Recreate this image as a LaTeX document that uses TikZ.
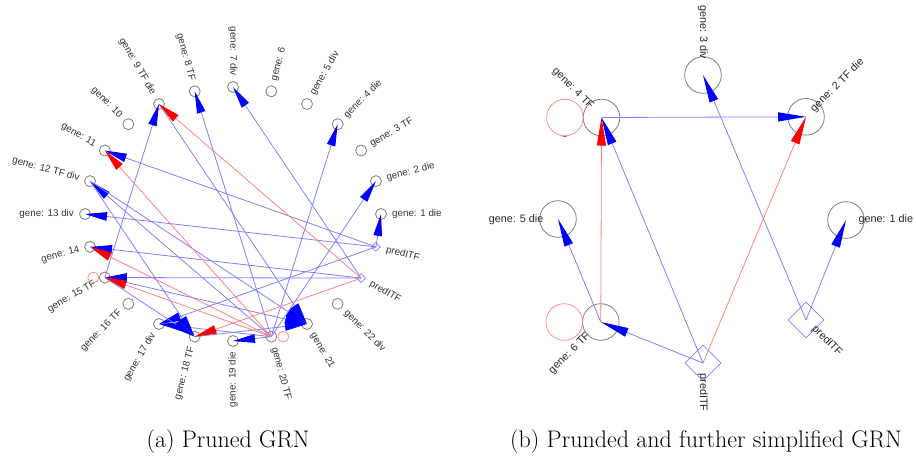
\documentclass[tikz,border=0pt]{standalone}
\usepackage{fontspec}
\newfontfamily\graphfont{Liberation Sans}
\usetikzlibrary{arrows.meta,shapes.geometric}
\definecolor{edgeblue}{RGB}{128,128,255}
\definecolor{edgered}{RGB}{255,128,128}
\definecolor{ringgray}{RGB}{125,125,125}

\begin{document}
\begin{tikzpicture}[x=1pt,y=-1pt,
  anode/.style={circle,draw=ringgray,line width=0.8pt,minimum size=11pt,inner sep=0pt},
  aloop/.style={circle,draw=edgered,line width=0.7pt,minimum size=11pt,inner sep=0pt},
  apred/.style={diamond,draw=edgeblue,line width=0.7pt,minimum size=9pt,inner sep=0pt},
  alabel/.style={font=\graphfont\fontsize{9.8}{10}\selectfont,text=black!80,inner sep=0.5pt},
  aact/.style={draw=edgeblue,line width=0.8pt,-{Triangle[length=22pt,width=8.5pt,color=blue,fill=blue]}},
  arep/.style={draw=edgered,line width=0.8pt,-{Triangle[length=22pt,width=8.5pt,color=red,fill=red]}},
  bnode/.style={circle,draw=ringgray,line width=0.8pt,minimum size=36.6pt,inner sep=0pt},
  bloop/.style={circle,draw=edgered,line width=0.7pt,minimum size=36.6pt,inner sep=0pt},
  bpred/.style={diamond,draw=edgeblue,line width=0.7pt,minimum size=36pt,inner sep=0pt},
  blabel/.style={font=\graphfont\fontsize{10.8}{11}\selectfont,text=black!85,inner sep=0.5pt},
  bact/.style={draw=edgeblue,line width=0.8pt,-{Triangle[length=28pt,width=9pt,color=blue,fill=blue]}},
  brep/.style={draw=edgered,line width=0.8pt,-{Triangle[length=28pt,width=9pt,color=red,fill=red]}},
  caption/.style={font=\fontsize{24}{28}\selectfont,anchor=base,inner sep=0pt}]

\useasboundingbox (0,0) rectangle (916,459);

% ---------- (a) genes on an ellipse ----------
\foreach \i/\ang/\rot/\anc/\txt in {
  1/0/0/west/{gene: 1 die}, 2/15/15/west/{gene: 2 die}, 3/30/30/west/{gene: 3 TF},
  4/45/45/west/{gene: 4 die}, 5/60/60/west/{gene: 5 div}, 6/75/75/west/{gene: 6},
  7/90/-90/east/{gene: 7 div}, 8/105/-75/east/{gene: 8 TF}, 9/120/-60/east/{gene: 9 TF die},
  10/135/-45/east/{gene: 10}, 11/150/-30/east/{gene: 11}, 12/165/-15/east/{gene: 12 TF div},
  13/180/0/east/{gene: 13 div}, 14/195/15/east/{gene: 14}, 15/210/30/east/{gene: 15 TF},
  16/225/45/east/{gene: 16 TF}, 17/240/60/east/{gene: 17 div}, 18/255/75/east/{gene: 18 TF},
  19/270/90/east/{gene: 19 die}, 20/285/-75/west/{gene: 20 TF}, 21/300/-60/west/{gene: 21},
  22/315/-45/west/{gene: 22 div}}{
  \pgfmathsetmacro\px{233+148*cos(\ang)}
  \pgfmathsetmacro\py{214-127*sin(\ang)}
  \pgfmathsetmacro\lx{\px+10.5*cos(\ang)}
  \pgfmathsetmacro\ly{\py-10.5*sin(\ang)}
  \node[anode] (a\i) at (\px,\py) {};
  \node[alabel,rotate=\rot,anchor=\anc] (ta\i) at (\lx,\ly) {\txt};
}
% predicted transcription factors
\foreach \i/\ang/\dy in {P1/330/0.6, P2/345/0}{
  \pgfmathsetmacro\px{233+148*cos(\ang)}
  \pgfmathsetmacro\py{214-127*sin(\ang)+\dy}
  \pgfmathsetmacro\lx{\px+10*cos(\ang)}
  \pgfmathsetmacro\ly{\py-10*sin(\ang)}
  \node[apred] (a\i) at (\px,\py) {};
  \node[alabel,rotate=\ang,anchor=west] (ta\i) at (\lx,\ly) {predITF};
}
% self-repression loops
\node[aloop] (la15) at ([xshift=-11.5pt]a15.center) {};
\node[aloop] (la20) at ([xshift=12pt]a20.center) {};

% activating edges
\foreach \s/\t in {P2/1, 20/2, 20/4, P1/7, 20/8, 15/9, P2/11, 20/12, P2/13, P1/14,
  P1/15, 20/17, P2/17, 20/19, 9/21, 12/21, 15/21, 15/18, 12/18, 18/21}
  \draw[aact] (a\s.center) -- (a\t.center);
% repressing edges
\foreach \s/\t in {P1/9, 20/11, 20/14, 20/15, P1/18}
  \draw[arep] (a\s.center) -- (a\t.center);

% ---------- (b) simplified network ----------
\node[bnode] (b4) at (601.5,117.5) {};
\node[bnode] (b3) at (703,75) {};
\node[bnode] (b2) at (806,116.8) {};
\node[bnode] (b1) at (846,220) {};
\node[bnode] (b5) at (558,219) {};
\node[bnode] (b6) at (600.8,322) {};
\node[bpred] (bq1) at (806,320) {};
\node[bpred] (bq2) at (703,363) {};
\node[bloop] (lb4) at (564.9,117.5) {};
\node[bloop] (lb6) at (564.2,322) {};
\draw[red!70,line width=1pt] ([xshift=-2pt]lb4.south) -- ([xshift=2pt]lb4.south);

\node[blabel,rotate=-45,anchor=east] (tb4) at (592,108) {gene: 4 TF};
\node[blabel,rotate=-90,anchor=east] (tb3) at (703,60) {gene: 3 div};
\node[blabel,rotate=45,anchor=west] (tb2) at (812,111) {gene: 2 TF die};
\node[blabel,anchor=west] (tb1) at (858,220) {gene: 1 die};
\node[blabel,anchor=east] (tb5) at (544,220) {gene: 5 die};
\node[blabel,rotate=45,anchor=east] (tb6) at (589,334) {gene: 6 TF};
\node[blabel,rotate=-45,anchor=west] (tbq1) at (813,327) {predITF};
\node[blabel,rotate=-90,anchor=west] (tbq2) at (703,373) {predITF};

\draw[bact] (b4.center) -- (b2.center);
\draw[brep] (b6.center) -- (b4.center);
\draw[bact] (bq2.center) -- (b4.center);
\draw[brep] (bq2.center) -- (b2.center);
\draw[bact] (bq2.center) -- (b6.center);
\draw[bact] (b6.center) -- (b5.center);
\draw[bact] (bq1.center) -- (b3.center);
\draw[bact] (bq1.center) -- (b1.center);

% ---------- captions ----------
\node[caption] (capa) at (228,447) {(a) Pruned GRN};
\node[caption] (capb) at (706,447) {(b) Prunded and further simplified GRN};
\end{tikzpicture}
\end{document}
